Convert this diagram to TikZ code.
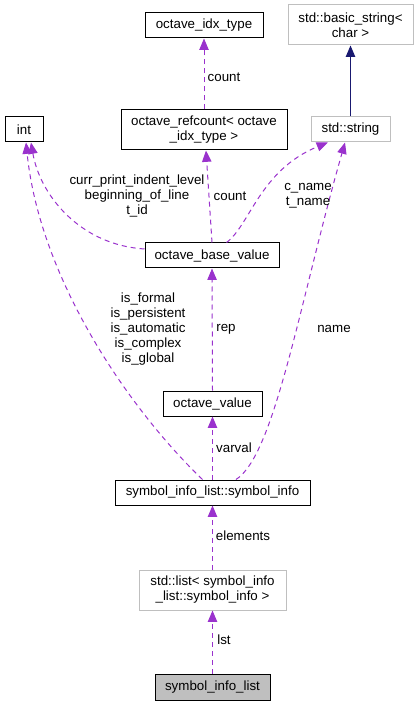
\documentclass[tikz,border=0pt]{standalone}
\usepackage{fontspec}
\setmainfont{Liberation Sans}
\usetikzlibrary{arrows.meta}
\definecolor{edgep}{HTML}{9A32CD}
\definecolor{edgeb}{HTML}{191970}
\definecolor{greyb}{HTML}{BFBFBF}
\begin{document}
\begin{tikzpicture}[x=0.75pt,y=-0.75pt,
  every node/.style={font=\fontsize{10pt}{11.25pt}\selectfont},
  cls/.style={draw=black, line width=0.75pt, inner sep=0pt, align=center, fill=white},
  ext/.style={cls, draw=greyb},
  cur/.style={cls, fill=greyb},
  lbl/.style={align=center, inner sep=0pt},
  usage/.style={draw=edgep, dash pattern=on 3.75pt off 3pt, line width=0.75pt, -{Triangle[length=8.5pt,width=7pt]}},
  inherit/.style={draw=edgeb, line width=0.75pt, -{Triangle[length=8.5pt,width=7pt]}}]
\useasboundingbox (0,0) rectangle (420,705);
% nodes
\node[cls, minimum width=88.5pt, minimum height=18.75pt] (idx) at (204,25.5) {octave\_idx\_type};
\node[ext, minimum width=93.75pt, minimum height=30pt] (bstr) at (350.5,25) {std::basic\_string\textless\\char \textgreater};
\node[cls, minimum width=28.5pt, minimum height=18.75pt] (int) at (24,129.5) {int};
\node[cls, minimum width=124.5pt, minimum height=30pt] (refc) at (204,130) {octave\_refcount\textless{} octave\\\_idx\_type \textgreater};
\node[ext, minimum width=59.25pt, minimum height=18.75pt] (str) at (350.5,129.5) {std::string};
\node[cls, minimum width=100.5pt, minimum height=18.75pt] (base) at (212,255.5) {octave\_base\_value};
\node[cls, minimum width=74.25pt, minimum height=18.75pt] (oval) at (212.5,403.5) {octave\_value};
\node[cls, minimum width=146.25pt, minimum height=18.75pt] (sinfo) at (212.5,492.5) {symbol\_info\_list::symbol\_info};
\node[ext, minimum width=110.25pt, minimum height=30pt] (slist) at (212.5,590) {std::list\textless{} symbol\_info\\\_list::symbol\_info \textgreater};
\node[cur, minimum width=86.25pt, minimum height=19.5pt] (sil) at (212.5,687) {symbol\_info\_list};
% edges
\draw[usage] (refc.north) -- (idx.south);
\draw[inherit] (str.north) -- (bstr.south);
\draw[usage] (base.north) -- ([xshift=1.5pt]refc.south);
\draw[usage] ([yshift=4.9pt]base.west) .. controls (80,245) and (40,195) .. ([xshift=5.25pt]int.south);
\draw[usage] ([xshift=10.9pt]base.north) .. controls (250,225) and (260,170) .. ([xshift=-16.9pt]str.south);
\draw[usage] ([xshift=-7.5pt]sinfo.north) .. controls (130,410) and (40,280) .. ([xshift=1.5pt]int.south);
\draw[usage] ([xshift=17.6pt]sinfo.north) .. controls (275,455) and (300,300) .. ([xshift=-4.1pt]str.south);
\draw[usage] (oval.north) -- (base.south);
\draw[usage] (sinfo.north) -- (oval.south);
\draw[usage] (slist.north) -- (sinfo.south);
\draw[usage] (sil.north) -- (slist.south);
% labels
\node[lbl] (l1) at (224,77) {count};
\node[lbl] (l2) at (137,196) {curr\_print\_indent\_level\\beginning\_of\_line\\t\_id};
\node[lbl] (l3) at (230,196) {count};
\node[lbl] (l4) at (308,196) {c\_name\\t\_name};
\node[lbl] (l5) at (148,329) {is\_formal\\is\_persistent\\is\_automatic\\is\_complex\\is\_global};
\node[lbl] (l6) at (226,329) {rep};
\node[lbl] (l7) at (334,329) {name};
\node[lbl] (l8) at (234,448) {varval};
\node[lbl] (l9) at (243,536) {elements};
\node[lbl] (l10) at (224,640) {lst};
\end{tikzpicture}
\end{document}
